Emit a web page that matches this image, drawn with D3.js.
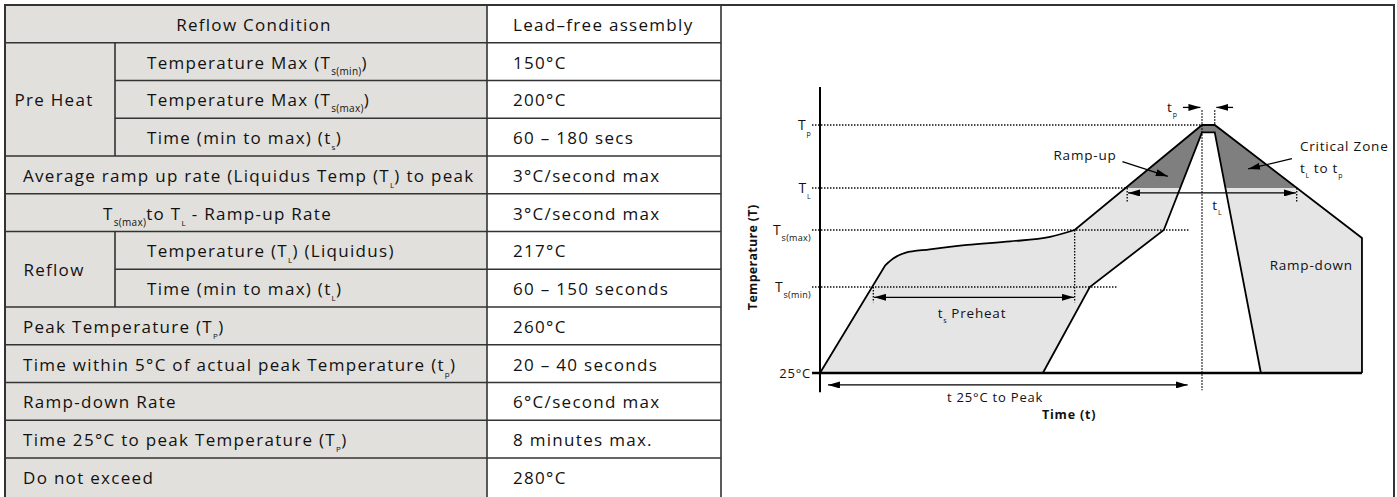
<!DOCTYPE html>
<html>
<head>
<meta charset="utf-8">
<script src="https://cdn.jsdelivr.net/npm/d3@7"></script>
<style>
  body { margin: 0; background: #fff; }
  svg { display: block; font-family: "Open Sans", sans-serif; }
</style>
</head>
<body>
<svg id="chart" width="1397" height="497"></svg>
<script>
// ---- table data ----
const groupNames = ["", "Pre Heat", "Pre Heat", "Pre Heat", "", "", "Reflow", "Reflow", "", "", "", "", ""];
const rowLabels = [
  "Reflow Condition",
  "Temperature Max (T_{s(min)})",
  "Temperature Max (T_{s(max)})",
  "Time (min to max) (t_{s})",
  "Average ramp up rate (Liquidus Temp (T_{L}) to peak",
  "T_{s(max)}to T_{L} - Ramp-up Rate",
  "Temperature (T_{L}) (Liquidus)",
  "Time (min to max) (t_{L})",
  "Peak Temperature (T_{P})",
  "Time within 5°C of actual peak Temperature (t_{p})",
  "Ramp-down Rate",
  "Time 25°C to peak Temperature (T_{P})",
  "Do not exceed"
];
const rowValues = [
  "Lead–free assembly", "150°C", "200°C", "60 – 180 secs", "3°C/second max",
  "3°C/second max", "217°C", "60 – 150 seconds", "260°C", "20 – 40 seconds",
  "6°C/second max", "8 minutes max.", "280°C"
];

// ---- profile data (time in s, temperature in °C, schematic) ----
const levelLabels = ["25°C", "T_{s(min)}", "T_{s(max)}", "T_{L}", "T_{p}"];
const levelTemps = [25, 150, 200, 217, 260];
const levelGuideEnd = [0, 374, 465, 386, 480];

const riseTime = [0, 82];
const riseTemp = [25, 169];
const soakTime = [82, 92, 107, 138, 185, 239, 289, 320];
const soakTemp = [169, 175, 180, 183, 187, 190, 194, 200];
const peakTime = [320, 480, 496, 681, 681];
const peakTemp = [200, 260, 260, 193, 25];
const innerTime = [280, 339, 432, 480, 496, 554];
const innerTemp = [25, 150, 200, 255, 255, 25];

const preheatSpan = [67, 320];   // t_s
const liquidusSpan = [386, 599]; // t_L
const peakSpan = [480, 496];     // t_p
const rampToPeak = [10, 462];

const svg = d3.select("#chart");

// ---------------- table ----------------
const tbl = { left: 5, group: 115, label: 487, right: 721 };
const rowY = d3.scaleBand().domain(d3.range(rowLabels.length)).range([5, 5 + 13 * 37.75]);
const lineCol = "#333";
// label placement per row: "center" or a left x
const labelAlign = i => i === 0 ? "center" : i === 5 ? 103 : groupNames[i] ? 147 : 23;

svg.append("rect").attr("x", tbl.left).attr("y", 5)
  .attr("width", tbl.label - tbl.left).attr("height", 500).attr("fill", "#e1e0dc");

function addRich(textSel, str, subSize, shift) {
  const parts = str.split(/_\{([^}]*)\}/);
  let down = false;
  parts.forEach((p, i) => {
    if (p === "") return;
    const ts = textSel.append("tspan").text(p);
    if (i % 2 === 1) {
      ts.attr("font-size", p.length > 1 ? subSize : subSize - 2)
        .attr("letter-spacing", 0.3)
        .attr("dy", shift);
      down = true;
    } else if (down) {
      ts.attr("dy", -shift);
      down = false;
    }
  });
}

const table = svg.append("g").attr("fill", "#111").attr("font-size", 17).attr("letter-spacing", 1.3);

// horizontal rules
d3.range(1, rowLabels.length).forEach(i => {
  const inGroup = groupNames[i] && groupNames[i] === groupNames[i - 1];
  table.append("line")
    .attr("x1", inGroup ? tbl.group : tbl.left).attr("x2", tbl.right)
    .attr("y1", rowY(i)).attr("y2", rowY(i))
    .attr("stroke", lineCol).attr("stroke-width", 1.6);
});

// group cells
const groups = d3.groups(d3.range(rowLabels.length).filter(i => groupNames[i]), i => groupNames[i]);
groups.forEach(([name, rows]) => {
  const y0 = rowY(rows[0]);
  const y1 = rowY(rows[rows.length - 1]) + rowY.bandwidth();
  table.append("line").attr("x1", tbl.group).attr("x2", tbl.group)
    .attr("y1", y0).attr("y2", y1).attr("stroke", lineCol).attr("stroke-width", 1.6);
  table.append("text").attr("x", 54).attr("y", (y0 + y1) / 2 + 7)
    .attr("text-anchor", "middle").text(name);
});

// labels + values
rowLabels.forEach((lab, i) => {
  const cy = rowY(i) + rowY.bandwidth() / 2 + 7;
  const t = table.append("text").attr("y", cy);
  const al = labelAlign(i);
  if (al === "center") {
    t.attr("x", (tbl.left + tbl.label) / 2 + 8).attr("text-anchor", "middle");
  } else {
    t.attr("x", al);
  }
  addRich(t, lab, 10, 6);
  table.append("text").attr("x", 513).attr("y", cy).text(rowValues[i]);
});

table.append("line").attr("x1", tbl.label).attr("x2", tbl.label)
  .attr("y1", 5).attr("y2", 510).attr("stroke", lineCol).attr("stroke-width", 1.6);
table.append("line").attr("x1", tbl.right).attr("x2", tbl.right)
  .attr("y1", 5).attr("y2", 510).attr("stroke", lineCol).attr("stroke-width", 1.6);
svg.append("rect").attr("x", 5).attr("y", 5).attr("width", 1389).attr("height", 520)
  .attr("fill", "none").attr("stroke", lineCol).attr("stroke-width", 2);

// ---------------- reflow profile ----------------
const x = d3.scaleLinear().domain([0, 480]).range([820, 1202]);
const y = d3.scaleLinear().domain(levelTemps).range([373, 287, 230, 188, 125]);
const pts = (ts, Ts) => ts.map((t, i) => [x(t), y(Ts[i])]);

const lin = d3.line();
const smooth = d3.line().curve(d3.curveMonotoneX);
const outerD = lin(pts(riseTime, riseTemp))
  + smooth(pts(soakTime, soakTemp)).replace(/^M/, "L")
  + lin(pts(peakTime, peakTemp)).replace(/^M/, "L");
const innerD = lin(pts(innerTime, innerTemp));

const defs = svg.append("defs");
defs.append("clipPath").attr("id", "critical")
  .append("rect").attr("x", 0).attr("y", 0).attr("width", 1397).attr("height", y(217));
defs.append("marker").attr("id", "head")
  .attr("viewBox", "0 0 12 7").attr("refX", 12).attr("refY", 3.5)
  .attr("markerWidth", 12).attr("markerHeight", 7)
  .attr("markerUnits", "userSpaceOnUse").attr("orient", "auto-start-reverse")
  .append("path").attr("d", "M0,0L12,3.5L0,7Z").attr("fill", "#000");

const g = svg.append("g");
g.append("path").attr("d", outerD + "Z").attr("fill", "#e5e5e5");
g.append("path").attr("d", outerD + "Z").attr("fill", "#7f7f7f").attr("clip-path", "url(#critical)");
g.append("path").attr("d", innerD + "Z").attr("fill", "#fff");

// dotted guides
const dotted = sel => sel.attr("stroke", "#000").attr("stroke-width", 1.3).attr("stroke-dasharray", "1.4,1.6").attr("fill", "none");
levelTemps.forEach((T, i) => {
  if (i === 0) return;
  g.append("line").attr("x1", x(-10)).attr("x2", x(levelGuideEnd[i]))
    .attr("y1", y(T)).attr("y2", y(T)).call(dotted);
});
const vDots = [
  [preheatSpan[0], 150, 128], [preheatSpan[1], 200, 128],
  [liquidusSpan[0], 217, 211], [liquidusSpan[1], 217, 211],
  [peakSpan[0], 270, 0], [peakSpan[1], 270, 260]
];
vDots.forEach(([t, T0, T1]) => {
  g.append("line").attr("x1", x(t)).attr("x2", x(t)).attr("y1", y(T0)).attr("y2", y(T1)).call(dotted);
});

// profile outlines
g.append("path").attr("d", outerD).attr("fill", "none").attr("stroke", "#000").attr("stroke-width", 1.8);
g.append("path").attr("d", innerD).attr("fill", "none").attr("stroke", "#000").attr("stroke-width", 1.8);

// axes
g.append("line").attr("x1", x(0)).attr("x2", x(0)).attr("y1", y(286)).attr("y2", y(-3))
  .attr("stroke", "#000").attr("stroke-width", 2);
g.append("line").attr("x1", x(-10)).attr("x2", x(681)).attr("y1", y(25)).attr("y2", y(25))
  .attr("stroke", "#000").attr("stroke-width", 2.6);

// arrows
const arrow = (t0, T0, t1, T1, both) => {
  const a = g.append("line").attr("x1", x(t0)).attr("y1", y(T0)).attr("x2", x(t1)).attr("y2", y(T1))
    .attr("stroke", "#000").attr("stroke-width", 1.3).attr("marker-end", "url(#head)");
  if (both) a.attr("marker-start", "url(#head)");
};
arrow(rampToPeak[0], 7.6, rampToPeak[1], 7.6, true);
arrow(preheatSpan[0] + 1, 135, preheatSpan[1] - 1, 135, true);
arrow(liquidusSpan[0] + 1, 215, liquidusSpan[1] - 1, 215, true);
arrow(456, 272, peakSpan[0] - 2, 272);
arrow(519, 272, peakSpan[1] + 2, 272);
arrow(380, 235, 437, 225);
arrow(593, 237, 538, 230);

// labels
const lab = g.append("g").attr("fill", "#111").attr("font-size", 13.5).attr("letter-spacing", 0.8);
levelLabels.forEach((name, i) => {
  const t = lab.append("text").attr("x", x(-10) - 1).attr("y", y(levelTemps[i]) + 5)
    .attr("text-anchor", "end").attr("font-size", i ? 14 : 13);
  addRich(t, name, 9, 6);
});
const note = (t, T, str, anchor) => {
  const el = lab.append("text").attr("x", x(t)).attr("y", y(T) + 4.5).attr("text-anchor", anchor || "start");
  addRich(el, str, 9, 5);
  return el;
};
note(333, 239, "Ramp-up", "middle");
note(603, 245, "Critical Zone");
note(603, 230, "t_{L} to t_{p}");
note(565, 169, "Ramp-down");
note(191, 112, "t_{s} Preheat", "middle");
note(499, 210, "t_{L}", "middle");
note(449, 272, "t_{p}", "end");
note(220, -10, "t 25°C to Peak", "middle").attr("font-size", 13);
note(313, -35, "Time (t)", "middle").attr("font-weight", "bold").attr("font-size", 12.5);
lab.append("text")
  .attr("transform", `translate(${x(-84) + 4},${y(176)}) rotate(-90)`)
  .attr("text-anchor", "middle").attr("font-weight", "bold").attr("font-size", 12.5)
  .attr("letter-spacing", 0.3).text("Temperature (T)");
</script>
</body>
</html>
